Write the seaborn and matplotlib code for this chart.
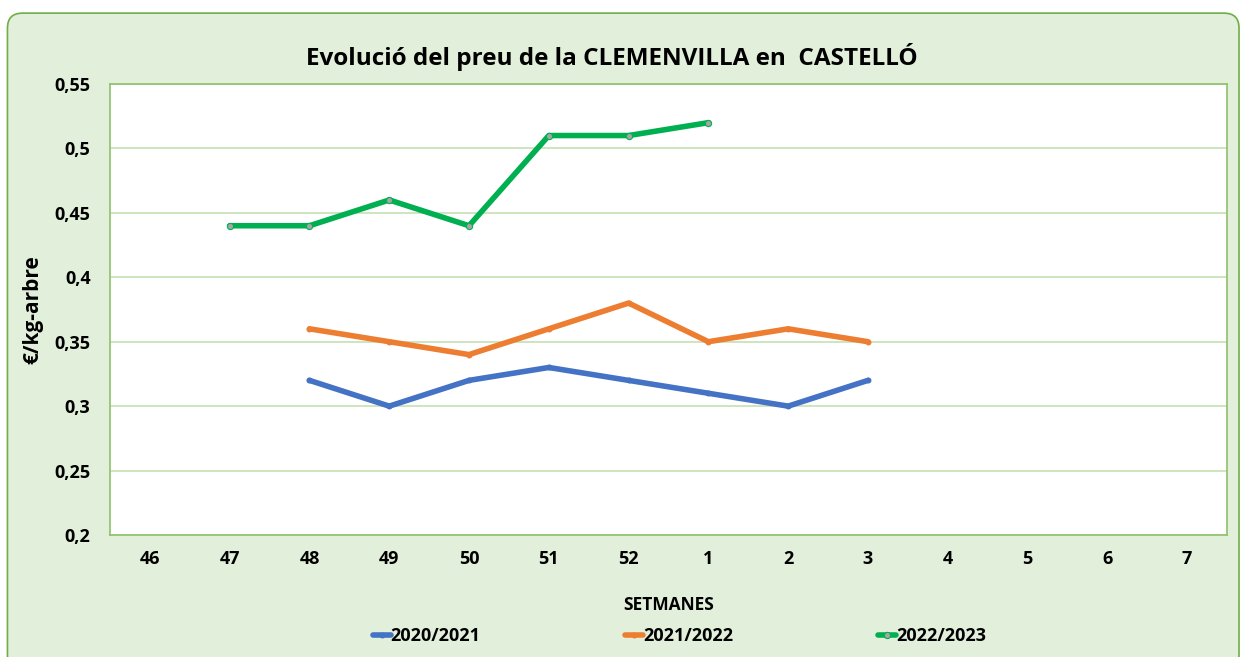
import pandas as pd
import numpy as np
import matplotlib
matplotlib.use("Agg")
import matplotlib.pyplot as plt
import seaborn as sns
from matplotlib.patches import FancyBboxPatch

# weeks shown on the x axis (campaign order)
weeks = ["46", "47", "48", "49", "50", "51", "52", "1", "2", "3", "4", "5", "6", "7"]

weeks_2021 = ["48", "49", "50", "51", "52", "1", "2", "3"]
preu_2021 = [0.32, 0.30, 0.32, 0.33, 0.32, 0.31, 0.30, 0.32]

weeks_2122 = ["48", "49", "50", "51", "52", "1", "2", "3"]
preu_2122 = [0.36, 0.35, 0.34, 0.36, 0.38, 0.35, 0.36, 0.35]

weeks_2223 = ["47", "48", "49", "50", "51", "52", "1"]
preu_2223 = [0.44, 0.44, 0.46, 0.44, 0.51, 0.51, 0.52]

rows = []
for camp, ws, vals in [("2020/2021", weeks_2021, preu_2021),
                       ("2021/2022", weeks_2122, preu_2122),
                       ("2022/2023", weeks_2223, preu_2223)]:
    for w, v in zip(ws, vals):
        rows.append({"campanya": camp, "pos": weeks.index(w), "preu": v})
df = pd.DataFrame(rows)

colors = {"2020/2021": "#4472C4", "2021/2022": "#ED7D31", "2022/2023": "#00B050"}
bg = "#E2EFDA"
grid_c = "#C5E0B4"

sns.set_style("white")
plt.rcParams["font.family"] = ["Open Sans", "DejaVu Sans"]
plt.rcParams["text.color"] = "black"
plt.rcParams["axes.labelcolor"] = "black"
plt.rcParams["xtick.color"] = "black"
plt.rcParams["ytick.color"] = "black"

fig = plt.figure(figsize=(12.44, 6.57), dpi=100)
fig.patch.set_facecolor("white")
frame = FancyBboxPatch((0.006, -0.02), 0.99, 1.0, transform=fig.transFigure,
                       boxstyle="round,pad=0,rounding_size=0.012",
                       facecolor=bg, edgecolor="#70AD47", linewidth=1.2,
                       mutation_aspect=1244 / 657, zorder=-10)
fig.patches.append(frame)

ax = fig.add_axes([110 / 1244, 1 - 535 / 657, 1117 / 1244, 451 / 657])
ax.set_facecolor("white")
ax.set_zorder(1)

for camp in ["2020/2021", "2021/2022", "2022/2023"]:
    sub = df[df["campanya"] == camp]
    if camp == "2022/2023":
        mk = dict(marker="o", markersize=4.5, markerfacecolor="#A5A5A5",
                  markeredgecolor=colors[camp], markeredgewidth=0.8)
    else:
        mk = dict(marker="o", markersize=3.5, markerfacecolor=colors[camp],
                  markeredgecolor=colors[camp])
    sns.lineplot(data=sub, x="pos", y="preu", ax=ax, color=colors[camp],
                 linewidth=4.0, label=camp, **mk)

ax.set_xlim(-0.5, len(weeks) - 0.5)
ax.set_ylim(0.2, 0.55)
ax.set_xticks(range(len(weeks)))
ax.set_xticklabels(weeks)
yt = [0.2, 0.25, 0.3, 0.35, 0.4, 0.45, 0.5, 0.55]
ax.set_yticks(yt)
ax.set_yticklabels([("%g" % v).replace(".", ",") for v in yt])
ax.tick_params(axis="x", length=0, labelsize=13, pad=11)
ax.tick_params(axis="y", length=0, labelsize=13, pad=14)
for lab in ax.get_xticklabels() + ax.get_yticklabels():
    lab.set_fontweight("bold")
ax.yaxis.grid(True, color=grid_c, linewidth=1.2)
ax.xaxis.grid(False)
for s in ax.spines.values():
    s.set_color("#8FC16B")
    s.set_linewidth(1.2)

ax.set_xlabel("SETMANES", fontsize=12.5, fontweight="bold", labelpad=20)
ax.set_ylabel("€/kg-arbre", fontsize=15, fontweight="bold", labelpad=8)
fig.text(0.492, 1 - 57 / 657, "Evolució del preu de la CLEMENVILLA en  CASTELLÓ",
         ha="center", va="center", fontsize=17.5, fontweight="bold")

ax.get_legend().remove()
handles, labels = ax.get_legend_handles_labels()
leg = fig.legend(handles, labels, loc="center", bbox_to_anchor=(0.546, 1 - 636 / 657),
                 ncol=3, frameon=False, handlelength=1.0, handletextpad=0.0,
                 columnspacing=8.0, prop={"weight": "bold", "size": 13})

fig.savefig("out.png", dpi=100, facecolor=fig.get_facecolor())
